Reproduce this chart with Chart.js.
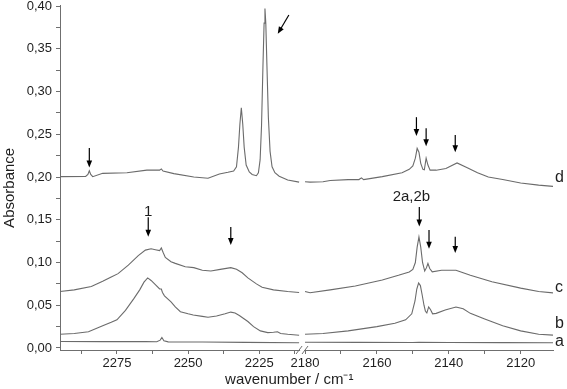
<!DOCTYPE html>
<html>
<head>
<meta charset="utf-8">
<script src="https://cdn.jsdelivr.net/npm/chart.js@4.4.0/dist/chart.umd.min.js"></script>
<style>
  html, body { margin: 0; padding: 0; background: #fff; }
  #wrap { width: 567px; height: 389px; }
</style>
</head>
<body>
<div id="wrap"><canvas id="spectra"></canvas></div>
<script>
// wavenumbers (cm-1) and absorbances, null = axis break
var WN_A = [2295, 2280, 2265, 2261, 2259.8, 2259.2, 2258.5, 2257, 2245, 2230, 2211, 2195,
            2180, 2165, 2150, 2148.3, 2140, 2125, 2111];
var ABS_A = [0.0076, 0.0075, 0.0074, 0.0073, 0.0092, 0.0122, 0.0085, 0.0072, 0.0070, 0.0066, 0.0062, null,
             0.0068, 0.0066, 0.0065, 0.0068, 0.0065, 0.0063, 0.0061];

var WN_B = [2295, 2290, 2285, 2280, 2277, 2275, 2272, 2269, 2267, 2265.5, 2264.2, 2263, 2261.5, 2260, 2259.4, 2259, 2258.3,
            2256, 2254.5, 2252.7, 2250, 2248.2, 2245, 2243, 2240, 2237, 2235, 2233.5, 2232, 2229, 2227, 2224.6, 2222,
            2220, 2218.6, 2217.5, 2215, 2211, 2195,
            2180, 2175, 2168, 2160, 2155, 2152, 2150.3, 2149.4, 2148.9, 2148.4, 2147.9, 2147.4, 2146.9, 2146.5, 2146.1,
            2145.6, 2145.1, 2144.5, 2143.5, 2141, 2138, 2136, 2134, 2130, 2125, 2120, 2115, 2111];
var ABS_B = [0.016, 0.017, 0.019, 0.026, 0.030, 0.033, 0.044, 0.058, 0.068, 0.077, 0.082, 0.079, 0.074, 0.069, 0.069, 0.065, 0.061,
             0.054, 0.048, 0.0425, 0.040, 0.0386, 0.037, 0.036, 0.0375, 0.040, 0.042, 0.041, 0.038, 0.031, 0.025, 0.020, 0.018,
             0.0185, 0.019, 0.017, 0.016, 0.015, null,
             0.016, 0.017, 0.020, 0.025, 0.029, 0.033, 0.040, 0.055, 0.069, 0.076, 0.073, 0.062, 0.050, 0.043, 0.041,
             0.048, 0.045, 0.040, 0.0405, 0.0444, 0.048, 0.046, 0.0405, 0.034, 0.026, 0.020, 0.016, 0.015];

var WN_C = [2295, 2290, 2284, 2280, 2277, 2274.6, 2271, 2267.5, 2265, 2263, 2261.5, 2260, 2259.4, 2258.8, 2258, 2256,
            2254.5, 2251, 2248, 2245, 2242, 2238.7, 2235, 2233, 2231, 2229, 2226, 2224, 2220, 2215, 2211, 2195,
            2180, 2178.6, 2173, 2166, 2158.5, 2154, 2151, 2150, 2149.3, 2148.8, 2148.3, 2147.8, 2147.3, 2146.7, 2146.2,
            2145.8, 2145.3, 2144.6, 2142, 2138, 2136, 2134, 2128, 2120, 2115, 2111];
var ABS_C = [0.066, 0.068, 0.072, 0.078, 0.083, 0.087, 0.097, 0.108, 0.1145, 0.116, 0.115, 0.114, 0.117, 0.112, 0.106, 0.101,
             0.099, 0.095, 0.094, 0.091, 0.090, 0.092, 0.094, 0.092, 0.088, 0.082, 0.075, 0.071, 0.068, 0.066, 0.065, null,
             0.066, 0.0647, 0.068, 0.0725, 0.0795, 0.085, 0.089, 0.092, 0.100, 0.118, 0.130, 0.118, 0.100, 0.090, 0.094,
             0.099, 0.093, 0.089, 0.091, 0.091, 0.088, 0.085, 0.0775, 0.070, 0.066, 0.0645];

var WN_D = [2295, 2286, 2285.2, 2284.7, 2284.2, 2283.5, 2280, 2271.5, 2264.5, 2260, 2259.4, 2258.8, 2255, 2248, 2243,
            2239, 2236, 2234, 2233, 2232.3, 2231.8, 2231.3, 2230.8, 2230.3, 2229.6, 2228.5, 2227.5, 2226, 2225.3,
            2224.7, 2224.2, 2223.7, 2223.3, 2223, 2222.7, 2222.3, 2221.8, 2221.2, 2220.5, 2219.5, 2218, 2215, 2211, 2195,
            2180, 2178.6, 2175, 2173, 2168, 2165, 2164.3, 2163.7, 2158.5, 2153, 2151, 2150, 2149.3, 2148.8, 2148.3,
            2147.8, 2147.2, 2146.8, 2146.3, 2145.8, 2145.2, 2143.5, 2140.8, 2137.7, 2135, 2132, 2129, 2125, 2120, 2115, 2111];
var ABS_D = [0.2004, 0.2006, 0.203, 0.2074, 0.203, 0.2004, 0.2043, 0.205, 0.208, 0.208, 0.2095, 0.207, 0.204, 0.200, 0.1985,
             0.2035, 0.2055, 0.207, 0.212, 0.235, 0.262, 0.281, 0.262, 0.235, 0.214, 0.206, 0.203, 0.2015, 0.205,
             0.22, 0.26, 0.33, 0.38, 0.397, 0.38, 0.33, 0.27, 0.23, 0.212, 0.205, 0.201, 0.1965, 0.194, null,
             0.1945, 0.194, 0.1945, 0.196, 0.197, 0.197, 0.199, 0.197, 0.2005, 0.205, 0.209, 0.213, 0.222, 0.2335, 0.229,
             0.216, 0.209, 0.2085, 0.222, 0.214, 0.208, 0.208, 0.210, 0.2165, 0.211, 0.205, 0.2, 0.197, 0.193, 0.1905, 0.189];

var SERIES_NAMES = ['a', 'b', 'c', 'd'];
var LABEL_LEVELS = [0.007, 0.029, 0.071, 0.199];

var X_TICKS = [2287.5, 2275, 2262.5, 2250, 2237.5, 2225, 2212.5, 2180, 2170, 2160, 2150, 2140, 2130, 2120];
var X_LABELLED = [2275, 2250, 2225, 2180, 2160, 2140, 2120];
var Y_TICKS = [0, 0.025, 0.05, 0.075, 0.1, 0.125, 0.15, 0.175, 0.2, 0.225, 0.25, 0.275, 0.3, 0.325, 0.35, 0.375, 0.4];

// axis break: left and right wavenumber ranges
var X_LEFT = [2295, 2211];
var X_RIGHT = [2180, 2111];
var LEFT_SHARE = 0.485;
var GAP_SHARE = 0.012;

// arrows [wavenumber, from, to] and the slanted one [wn1, a1, wn2, a2]
var ARROWS = [
  [2284.7, 0.234, 0.211],
  [2264, 0.153, 0.130],
  [2235, 0.1415, 0.1205],
  [2149.0, 0.270, 0.248],
  [2146.3, 0.257, 0.236],
  [2138.2, 0.249, 0.229],
  [2148.2, 0.165, 0.142],
  [2145.5, 0.138, 0.116],
  [2138.2, 0.130, 0.111]
];
var SLANT_ARROW = [2214.6, 0.3895, 2218.5, 0.3675];
var NOTES = [['1', 2264, 0.159], ['2a,2b', 2150.4, 0.177]];

var LINE = '#6b6b6b';
var AXIS = '#6f6f6f';
var TEXT = '#1e1e1e';
var FONT = '"Liberation Sans", Arial, sans-serif';

class BrokenScale extends Chart.LinearScale {
  buildTicks() {
    return X_TICKS.map(function (v) { return { value: v }; });
  }
  getPixelForValue(v) {
    if (v === null || v === undefined) return NaN;
    var f;
    if (v > (X_LEFT[1] + X_RIGHT[0]) / 2) {
      f = (X_LEFT[0] - v) / (X_LEFT[0] - X_LEFT[1]) * LEFT_SHARE;
    } else {
      f = LEFT_SHARE + GAP_SHARE + (X_RIGHT[0] - v) / (X_RIGHT[0] - X_RIGHT[1]) * (1 - LEFT_SHARE - GAP_SHARE);
    }
    return this.left + f * this.width;
  }
  getValueForPixel(p) {
    var f = (p - this.left) / this.width;
    if (f <= LEFT_SHARE) return X_LEFT[0] - f / LEFT_SHARE * (X_LEFT[0] - X_LEFT[1]);
    return X_RIGHT[0] - (f - LEFT_SHARE - GAP_SHARE) / (1 - LEFT_SHARE - GAP_SHARE) * (X_RIGHT[0] - X_RIGHT[1]);
  }
}
BrokenScale.id = 'broken';
BrokenScale.defaults = Chart.LinearScale.defaults;
Chart.register(BrokenScale);

function points(wn, abs) {
  return wn.map(function (w, i) { return { x: w, y: abs[i] }; });
}

function drawArrow(ctx, x1, y1, x2, y2) {
  var ang = Math.atan2(y2 - y1, x2 - x1);
  var head = 7, half = 2.8;
  ctx.beginPath();
  ctx.moveTo(x1, y1);
  ctx.lineTo(x2 - Math.cos(ang) * head * 0.8, y2 - Math.sin(ang) * head * 0.8);
  ctx.stroke();
  ctx.beginPath();
  ctx.moveTo(x2, y2);
  ctx.lineTo(x2 - Math.cos(ang) * head - Math.sin(ang) * half, y2 - Math.sin(ang) * head + Math.cos(ang) * half);
  ctx.lineTo(x2 - Math.cos(ang) * head + Math.sin(ang) * half, y2 - Math.sin(ang) * head - Math.cos(ang) * half);
  ctx.closePath();
  ctx.fill();
}

var annotations = {
  id: 'annotations',
  afterDraw: function (chart) {
    var ctx = chart.ctx, xs = chart.scales.x, ys = chart.scales.y;
    var area = chart.chartArea;
    ctx.save();

    // axis break
    var xl = xs.getPixelForValue(X_LEFT[1]);
    var xr = xs.getPixelForValue(X_RIGHT[0]);
    ctx.fillStyle = '#fff';
    ctx.fillRect(xl + 1, area.bottom - 1.5, xr - xl - 2, 3);
    ctx.strokeStyle = AXIS;
    ctx.lineWidth = 1;
    [xl, xr].forEach(function (px) {
      ctx.beginPath();
      ctx.moveTo(px - 3, area.bottom + 4);
      ctx.lineTo(px + 3, area.bottom - 4);
      ctx.stroke();
    });

    // arrows
    ctx.strokeStyle = '#000';
    ctx.fillStyle = '#000';
    ctx.lineWidth = 1.2;
    ARROWS.forEach(function (a) {
      var px = xs.getPixelForValue(a[0]);
      drawArrow(ctx, px, ys.getPixelForValue(a[1]), px, ys.getPixelForValue(a[2]));
    });
    drawArrow(ctx, xs.getPixelForValue(SLANT_ARROW[0]), ys.getPixelForValue(SLANT_ARROW[1]),
              xs.getPixelForValue(SLANT_ARROW[2]), ys.getPixelForValue(SLANT_ARROW[3]));

    // notes
    ctx.fillStyle = TEXT;
    ctx.font = '15px ' + FONT;
    ctx.textAlign = 'center';
    ctx.textBaseline = 'middle';
    NOTES.forEach(function (n) {
      ctx.fillText(n[0], xs.getPixelForValue(n[1]), ys.getPixelForValue(n[2]));
    });

    // trace labels
    ctx.font = '16px ' + FONT;
    ctx.textAlign = 'left';
    SERIES_NAMES.forEach(function (name, i) {
      ctx.fillText(name, area.right + 2, ys.getPixelForValue(LABEL_LEVELS[i]));
    });

    // axis titles
    ctx.font = '15px ' + FONT;
    ctx.textAlign = 'center';
    ctx.fillText('wavenumber / cm\u207B\u00B9', area.left + area.width * 0.465, 380);
    ctx.translate(10, area.top + area.height * 0.53);
    ctx.rotate(-Math.PI / 2);
    ctx.fillText('Absorbance', 0, 0);
    ctx.restore();
  }
};

var ctx = document.getElementById('spectra').getContext('2d');
var spectra = new Chart(ctx, {
  type: 'line',
  data: {
    datasets: [
      { label: 'a', data: points(WN_A, ABS_A) },
      { label: 'b', data: points(WN_B, ABS_B) },
      { label: 'c', data: points(WN_C, ABS_C) },
      { label: 'd', data: points(WN_D, ABS_D) }
    ].map(function (ds) {
      ds.borderColor = LINE;
      ds.borderWidth = 1.1;
      ds.pointRadius = 0;
      ds.tension = 0;
      ds.spanGaps = false;
      return ds;
    })
  },
  options: {
    responsive: true,
    maintainAspectRatio: false,
    animation: false,
    events: [],
    layout: { padding: { top: 5, right: 14, bottom: 0, left: 0 } },
    plugins: { legend: { display: false }, tooltip: { enabled: false } },
    scales: {
      x: {
        type: 'broken',
        min: X_RIGHT[1],
        max: X_LEFT[0],
        grid: { drawOnChartArea: false, tickLength: 4, color: AXIS },
        border: { color: AXIS },
        ticks: {
          autoSkip: false,
          maxRotation: 0,
          padding: 2,
          color: TEXT,
          font: { family: FONT, size: 13 },
          callback: function (v) { return X_LABELLED.indexOf(v) >= 0 ? String(v) : ''; }
        },
        afterFit: function (s) { s.height = 39; s.paddingLeft = 0; s.paddingRight = 0; }
      },
      y: {
        min: -0.00234,
        max: 0.4012,
        grid: { drawOnChartArea: false, tickLength: 4, color: AXIS },
        border: { color: AXIS },
        afterBuildTicks: function (s) { s.ticks = Y_TICKS.map(function (v) { return { value: v }; }); },
        ticks: {
          padding: 4,
          color: TEXT,
          font: { family: FONT, size: 13 },
          callback: function (v) {
            return Math.round(v * 1000) % 50 === 0 ? v.toFixed(2).replace('.', ',') : '';
          }
        },
        afterFit: function (s) { s.width = 60; s.paddingTop = 0; s.paddingBottom = 0; }
      }
    }
  },
  plugins: [annotations]
});
</script>
</body>
</html>
